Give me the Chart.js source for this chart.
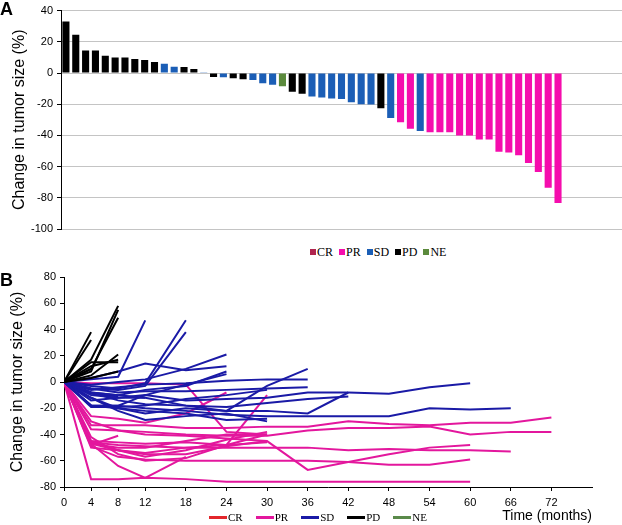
<!DOCTYPE html>
<html>
<head>
<meta charset="utf-8">
<script src="https://cdn.jsdelivr.net/npm/chart.js@4.4.1/dist/chart.umd.min.js"></script>
<style>
  html, body { margin: 0; padding: 0; background: #fff; }
  #wrap { position: relative; width: 622px; height: 525px; overflow: hidden; background: #fff; }
  canvas { position: absolute; left: 0; }
  .panel { position: absolute; left: 0; font: bold 18px "Liberation Sans", Arial, sans-serif; color: #000; line-height: 18px; }
  .legA { position: absolute; top: 245px; left: 310px; display: flex; align-items: center; font: 12px "Liberation Serif", "Times New Roman", serif; color: #000; line-height: 14px; }
  .legA .it { display: flex; align-items: center; margin-right: 6px; }
  .legA .sw { width: 6px; height: 6px; margin-right: 1px; }
  .legB { position: absolute; top: 510px; left: 209px; display: flex; align-items: center; font: 11px "Liberation Serif", "Times New Roman", serif; color: #000; line-height: 14px; }
  .legB .it { display: flex; align-items: center; margin-right: 13px; }
  .legB .ln { width: 18px; height: 3px; margin-right: 1px; }
</style>
</head>
<body>
<div id="wrap">
  <canvas id="chartA" width="622" height="240" style="top:0px"></canvas>
  <canvas id="chartB" width="622" height="265" style="top:260px"></canvas>
  <div class="panel" style="top:0px">A</div>
  <div class="panel" style="top:271px">B</div>
  <div class="legA" id="legA"></div>
  <div class="legB" id="legB"></div>
</div>
<script>
// ---------- Panel A data ----------
const changeA = [33, 24.5, 14.5, 14.5, 11, 10, 10, 9, 8.3, 7, 6, 4, 3.8, 2.5, 0.5, -2.5, -2.7, -3.3, -4, -4.5,
  -6.5, -7.5, -8.5, -12, -13.3, -15, -15.7, -16.3, -16.6, -18.8, -20, -20.2, -22.6, -28.8, -31.5, -35.7, -37.2,
  -38, -38, -38, -40, -40, -42.7, -42.7, -50.5, -51, -52.8, -57.7, -63.5, -73.5, -83.3];
const responseA = ['PD','PD','PD','PD','PD','PD','PD','PD','PD','PD','SD','SD','PD','PD','SD','PD','SD','PD','PD','SD',
  'SD','SD','NE','PD','PD','SD','SD','SD','SD','SD','SD','SD','PD','SD','PR','PR','SD',
  'PR','PR','PR','PR','PR','PR','PR','PR','PR','PR','PR','PR','PR','PR'];
const responseTypes = ['CR', 'PR', 'SD', 'PD', 'NE'];
const yTicksA = [40, 20, 0, -20, -40, -60, -80, -100];

// ---------- Panel B data ----------
const scanMonths = [0, 4, 8, 12, 18, 24, 30, 36, 42, 48, 54, 60, 66, 72];
const xTickMonths = [0, 4, 8, 12, 18, 24, 30, 36, 42, 48, 54, 60, 66, 72];
const pdLines = [
  [0, 38], [0, 32], [0, 17, 58], [0, 8, 55], [0, 10, 49], [0, 5, 21], [0, 12, 17], [0, 15, 15], [0, 10], [0, 3, 8]
];
const sdLines = [
  [0, 2, 4, 47],
  [0, -3, -5, -1, 47],
  [0, -5, -6, -3, 38],
  [0, 3, 8, 14, 9, 12],
  [0, -2, 0, 2, 10, 21],
  [0, -8, -10, -6, -3, 8],
  [0, -18, -18, -10, -2, 6],
  [0, -8, -10, -12, -18, -22, -3, 10],
  [0, -6, -4, -2, -1, 1, 2, 2],
  [0, -10, -12, -10, -14, -13, -12, -8, -8, -9, -4, -1],
  [0, -18, -18, -20, -22, -25, -26, -26, -26, -26, -20, -21, -20],
  [0, -12, -20, -24, -20, -22, -22, -24, -8],
  [0, -8, -14, -17, -18, -19, -16, -13, -11],
  [0, -18, -20, -22, -24, -29, -28],
  [0, -14, -12, -12],
  [0, -9, -11],
  [0, -19, -19, -18, -13, -10, -6],
  [0, -5, -8, -7, -7, -6, -5, -4],
  [0, -12, -22, -29, -26, -24, -30]
];
const prLines = [
  [0, -74, -74, -73, -74, -76, -76, -76, -76, -76, -76, -76],
  [0, -47, -64, -73, -57],
  [0, -49, -57, -59, -60, -60, -60, -60, -61, -63, -63, -59],
  [0, -47, -52, -55, -55, -49, -45, -67, -61, -55, -50, -48],
  [0, -46, -48, -49, -50, -50, -50, -50, -52, -51, -52, -52, -53],
  [0, -33, -33, -33, -35, -35, -34, -34, -30, -32, -33, -31, -31, -27],
  [0, -36, -37, -38, -40, -41, -41, -37, -35, -35, -34, -40, -38, -38],
  [0, -1, -1, -1, -2, -38, -40],
  [0, -45, -52, -57, -52, -44, -38],
  [0, -45, -46, -47, -46, -48, -10],
  [0, -26, -28, -31, -24, -8],
  [0, -48, -41],
  [0, -47, -50, -50, -45, -40, -40],
  [0, -30, -37, -40, -41, -43, -45],
  [0, -50, -52, -54, -50, -48, -46],
  [0, -42, -55, -60, -58, -48, -40]
];

// ---------- Styles ----------
const barColors = { CR: '#b0254f', PR: '#f50dad', SD: '#1b5eb6', PD: '#000000', NE: '#5b8a3c' };
const lineColors = { CR: '#e3262b', PR: '#e3179d', SD: '#1a1aa6', PD: '#000000', NE: '#5a8a4a' };
const sans = '"Liberation Sans", Arial, sans-serif';

// ---------- Panel A ----------
const patientIds = changeA.map((_, i) => String(i + 1));
const padCats = ['', '', '', '', '', ''];
new Chart(document.getElementById('chartA'), {
  type: 'bar',
  data: {
    labels: patientIds.concat(padCats),
    datasets: responseTypes.map(rt => ({
      label: rt,
      data: changeA.map((v, i) => responseA[i] === rt ? v : null),
      backgroundColor: barColors[rt],
      borderWidth: 0,
      barPercentage: 0.72,
      categoryPercentage: 1,
      grouped: false
    }))
  },
  options: {
    responsive: false, animation: false, events: [], devicePixelRatio: 1,
    layout: { padding: { top: 8, right: 0, bottom: 11, left: 0 } },
    plugins: { legend: { display: false }, tooltip: { enabled: false } },
    scales: {
      x: { display: false },
      y: {
        min: -100, max: 40,
        afterBuildTicks: s => { s.ticks = yTicksA.map(v => ({ value: v })); },
        ticks: { font: { family: sans, size: 11 }, color: '#000', padding: 4 },
        grid: { color: '#c4c4c4', tickColor: '#000', tickLength: 4, lineWidth: 1 },
        border: { color: '#000', width: 1 },
        title: { display: true, text: 'Change in tumor size (%)', color: '#000',
          font: { family: sans, size: 16 }, padding: { top: 9.5, bottom: 0 } },
        afterFit: s => { s.width = 61; }
      }
    }
  }
});

// ---------- Panel B ----------
function toPts(vals) { return vals.map((v, i) => ({ x: scanMonths[i], y: v })); }
const dsB = [];
pdLines.forEach(l => dsB.push({ label: 'PD', data: toPts(l), borderColor: lineColors.PD }));
sdLines.forEach(l => dsB.push({ label: 'SD', data: toPts(l), borderColor: lineColors.SD }));
prLines.forEach(l => dsB.push({ label: 'PR', data: toPts(l), borderColor: lineColors.PR }));
dsB.forEach(d => { d.borderWidth = 2; d.pointRadius = 0; d.tension = 0; d.fill = false; });

new Chart(document.getElementById('chartB'), {
  type: 'line',
  data: { datasets: dsB },
  options: {
    responsive: false, animation: false, events: [], devicePixelRatio: 1,
    layout: { padding: { top: 17, right: 30, bottom: 0, left: 0 } },
    plugins: { legend: { display: false }, tooltip: { enabled: false } },
    scales: {
      x: {
        type: 'linear', min: 0, max: 78,
        afterBuildTicks: s => { s.ticks = xTickMonths.map(v => ({ value: v })); },
        ticks: { font: { family: sans, size: 11 }, color: '#000', padding: 5, autoSkip: false, maxRotation: 0 },
        grid: { drawOnChartArea: false, tickColor: '#000', tickLength: 4 },
        border: { color: '#000', width: 1 },
        title: { display: true, text: 'Time (months)', align: 'end', color: '#000',
          font: { family: sans, size: 14 }, padding: { top: 0, bottom: 0 } },
        afterFit: s => { s.height = 38; }
      },
      y: {
        min: -80, max: 80,
        ticks: { stepSize: 20, font: { family: sans, size: 11 }, color: '#000', padding: 4 },
        grid: { drawOnChartArea: false, tickColor: '#000', tickLength: 4 },
        border: { color: '#000', width: 1 },
        title: { display: true, text: 'Change in tumor size (%)', color: '#000',
          font: { family: sans, size: 16 }, padding: { top: 7.5, bottom: 0 } },
        afterFit: s => { s.width = 64; }
      }
    }
  }
});

// ---------- Legends ----------
const legA = document.getElementById('legA');
responseTypes.forEach(rt => {
  const it = document.createElement('div'); it.className = 'it';
  const sw = document.createElement('div'); sw.className = 'sw'; sw.style.background = barColors[rt];
  const tx = document.createElement('span'); tx.textContent = rt;
  it.appendChild(sw); it.appendChild(tx); legA.appendChild(it);
});
const legB = document.getElementById('legB');
responseTypes.forEach(rt => {
  const it = document.createElement('div'); it.className = 'it';
  const ln = document.createElement('div'); ln.className = 'ln'; ln.style.background = lineColors[rt];
  const tx = document.createElement('span'); tx.textContent = rt;
  it.appendChild(ln); it.appendChild(tx); legB.appendChild(it);
});
</script>
</body>
</html>
